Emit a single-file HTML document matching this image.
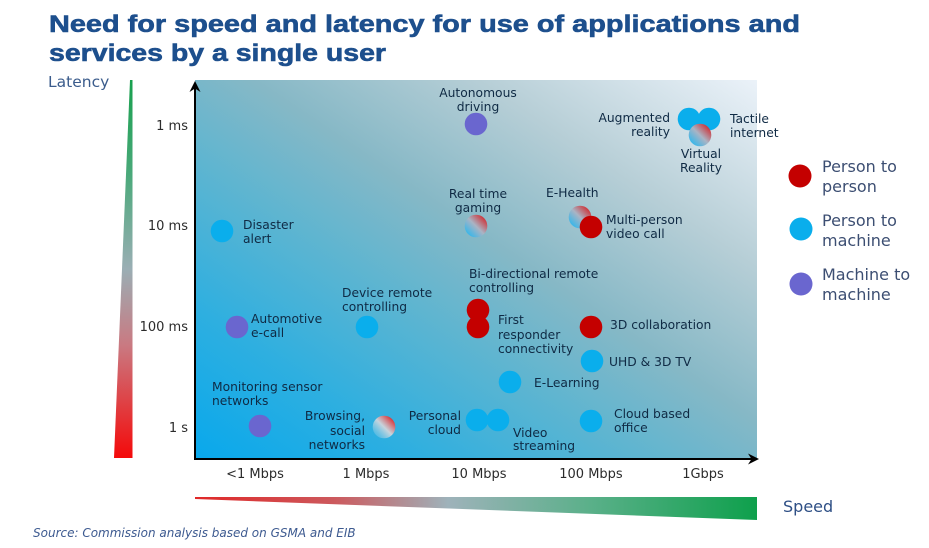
<!DOCTYPE html>
<html>
<head>
<meta charset="utf-8">
<style>
  html, body { margin:0; padding:0; background:#ffffff; }
  svg { display:block; }
  .lbl { font-family:"DejaVu Sans","Liberation Sans",sans-serif; font-size:12.3px; fill:#0f2a44; }
  .tick { font-family:"DejaVu Sans","Liberation Sans",sans-serif; font-size:13px; fill:#2b2b2b; }
  .leg { font-family:"DejaVu Sans","Liberation Sans",sans-serif; font-size:16px; fill:#3c4e72; }
</style>
</head>
<body>
<svg width="929" height="548" viewBox="0 0 929 548" xmlns="http://www.w3.org/2000/svg">
  <defs>
    <linearGradient id="bg" x1="0" y1="1" x2="1" y2="0">
      <stop offset="0" stop-color="#08a8ec"/>
      <stop offset="0.2" stop-color="#2eafe0"/>
      <stop offset="0.4" stop-color="#5fb5d0"/>
      <stop offset="0.55" stop-color="#86b8c6"/>
      <stop offset="0.75" stop-color="#b6ced6"/>
      <stop offset="1" stop-color="#ebf2f9"/>
    </linearGradient>
    <linearGradient id="lat" x1="0" y1="0" x2="0" y2="1">
      <stop offset="0" stop-color="#18a04e"/>
      <stop offset="0.25" stop-color="#4aa97a"/>
      <stop offset="0.5" stop-color="#9aaeb4"/>
      <stop offset="0.7" stop-color="#c97a82"/>
      <stop offset="1" stop-color="#f40a0a"/>
    </linearGradient>
    <linearGradient id="spd" x1="0" y1="0" x2="1" y2="0">
      <stop offset="0" stop-color="#e02828"/>
      <stop offset="0.25" stop-color="#cc5a5e"/>
      <stop offset="0.45" stop-color="#9eb2ba"/>
      <stop offset="0.7" stop-color="#5bb08a"/>
      <stop offset="1" stop-color="#0ea04c"/>
    </linearGradient>
    <linearGradient id="gb" x1="1" y1="0" x2="0" y2="1">
      <stop offset="0.15" stop-color="#cc3a40"/>
      <stop offset="0.5" stop-color="#aab4c4"/>
      <stop offset="0.85" stop-color="#3cb6e8"/>
    </linearGradient>
    <linearGradient id="gbr" x1="1" y1="0" x2="0" y2="1">
      <stop offset="0.15" stop-color="#d83a3e"/>
      <stop offset="0.5" stop-color="#d8d8dc" stop-opacity="0.9"/>
      <stop offset="0.9" stop-color="#8fd0ea" stop-opacity="0.3"/>
    </linearGradient>
  </defs>

  <!-- Title -->
  <text x="49" y="32" font-family="Liberation Sans, Arial, sans-serif" font-weight="bold" font-size="24" fill="#1d4f8d" stroke="#1d4f8d" stroke-width="0.6" textLength="751" lengthAdjust="spacingAndGlyphs">Need for speed and latency for use of applications and</text>
  <text x="49" y="61" font-family="Liberation Sans, Arial, sans-serif" font-weight="bold" font-size="24" fill="#1d4f8d" stroke="#1d4f8d" stroke-width="0.6" textLength="337" lengthAdjust="spacingAndGlyphs">services by a single user</text>

  <!-- Latency label & triangle -->
  <text x="48" y="87" font-family="DejaVu Sans, Liberation Sans, sans-serif" font-size="15.5" fill="#3b5c8c">Latency</text>
  <polygon points="130,80 132.5,80 132.5,458 114,458" fill="url(#lat)"/>

  <!-- Plot background -->
  <rect x="195" y="80" width="562" height="379" fill="url(#bg)"/>

  <!-- Axes -->
  <line x1="195" y1="459" x2="195" y2="86" stroke="#000" stroke-width="2"/>
  <polygon points="195,81 189.5,92 195,88.5 200.5,92" fill="#000"/>
  <line x1="194" y1="459" x2="753" y2="459" stroke="#000" stroke-width="2"/>
  <polygon points="759,459 748,453.5 751.5,459 748,464.5" fill="#000"/>

  <!-- Y ticks -->
  <text class="tick" x="188" y="130" text-anchor="end">1 ms</text>
  <text class="tick" x="188" y="230" text-anchor="end">10 ms</text>
  <text class="tick" x="188" y="331" text-anchor="end">100 ms</text>
  <text class="tick" x="188" y="432" text-anchor="end">1 s</text>

  <!-- X ticks -->
  <text class="tick" x="255" y="478" text-anchor="middle">&lt;1 Mbps</text>
  <text class="tick" x="366" y="478" text-anchor="middle">1 Mbps</text>
  <text class="tick" x="479" y="478" text-anchor="middle">10 Mbps</text>
  <text class="tick" x="591" y="478" text-anchor="middle">100 Mbps</text>
  <text class="tick" x="703" y="478" text-anchor="middle">1Gbps</text>

  <!-- Speed triangle -->
  <polygon points="195,497 757,497 757,520 195,499" fill="url(#spd)"/>
  <text x="783" y="512" font-family="DejaVu Sans, Liberation Sans, sans-serif" font-size="16" fill="#2e4f85">Speed</text>

  <!-- Source -->
  <text x="33" y="537" font-family="DejaVu Sans, Liberation Sans, sans-serif" font-style="italic" font-size="12" fill="#3d5a90">Source: Commission analysis based on GSMA and EIB</text>

  <!-- Autonomous driving -->
  <circle cx="476" cy="124" r="11.3" fill="#6a66cf"/>
  <text class="lbl" x="478" y="97" text-anchor="middle">Autonomous</text>
  <text class="lbl" x="478" y="111" text-anchor="middle">driving</text>

  <!-- AR / Tactile / VR -->
  <circle cx="689" cy="119" r="11.3" fill="#0aaeec"/>
  <circle cx="709" cy="119" r="11.3" fill="#0aaeec"/>
  <circle cx="700" cy="135" r="11.3" fill="url(#gb)"/>
  <text class="lbl" x="670" y="122" text-anchor="end">Augmented</text>
  <text class="lbl" x="670" y="136" text-anchor="end">reality</text>
  <text class="lbl" x="730" y="123">Tactile</text>
  <text class="lbl" x="730" y="137">internet</text>
  <text class="lbl" x="701" y="158" text-anchor="middle">Virtual</text>
  <text class="lbl" x="701" y="172" text-anchor="middle">Reality</text>

  <!-- Real time gaming -->
  <circle cx="476" cy="226" r="11.3" fill="url(#gb)"/>
  <text class="lbl" x="478" y="198" text-anchor="middle">Real time</text>
  <text class="lbl" x="478" y="212" text-anchor="middle">gaming</text>

  <!-- E-Health / Multi-person -->
  <circle cx="580" cy="217" r="11.3" fill="url(#gb)"/>
  <circle cx="591" cy="227" r="11.3" fill="#c40000"/>
  <text class="lbl" x="546" y="197">E-Health</text>
  <text class="lbl" x="606" y="224">Multi-person</text>
  <text class="lbl" x="606" y="238">video call</text>

  <!-- Disaster alert -->
  <circle cx="222" cy="231" r="11.3" fill="#0aaeec"/>
  <text class="lbl" x="243" y="229">Disaster</text>
  <text class="lbl" x="243" y="243">alert</text>

  <!-- Bi-directional / First responder -->
  <circle cx="478" cy="310" r="11.3" fill="#c40000"/>
  <circle cx="478" cy="327" r="11.3" fill="#c40000"/>
  <text class="lbl" x="469" y="278">Bi-directional remote</text>
  <text class="lbl" x="469" y="292">controlling</text>
  <text class="lbl" x="498" y="324">First</text>
  <text class="lbl" x="498" y="339">responder</text>
  <text class="lbl" x="498" y="353">connectivity</text>

  <!-- Automotive e-call -->
  <circle cx="237" cy="327" r="11.3" fill="#6a66cf"/>
  <text class="lbl" x="251" y="323">Automotive</text>
  <text class="lbl" x="251" y="337">e-call</text>

  <!-- Device remote controlling -->
  <circle cx="367" cy="327" r="11.3" fill="#0aaeec"/>
  <text class="lbl" x="342" y="297">Device remote</text>
  <text class="lbl" x="342" y="311">controlling</text>

  <!-- 3D collaboration -->
  <circle cx="591" cy="327" r="11.3" fill="#c40000"/>
  <text class="lbl" x="610" y="329">3D collaboration</text>

  <!-- UHD -->
  <circle cx="592" cy="361" r="11.3" fill="#0aaeec"/>
  <text class="lbl" x="609" y="366">UHD &amp; 3D TV</text>

  <!-- E-Learning -->
  <circle cx="510" cy="382" r="11.3" fill="#0aaeec"/>
  <text class="lbl" x="534" y="387">E-Learning</text>

  <!-- Monitoring sensor networks -->
  <circle cx="260" cy="426" r="11.3" fill="#6a66cf"/>
  <text class="lbl" x="212" y="391">Monitoring sensor</text>
  <text class="lbl" x="212" y="405">networks</text>

  <!-- Browsing -->
  <circle cx="384" cy="427" r="11.3" fill="url(#gbr)"/>
  <text class="lbl" x="365" y="420" text-anchor="end">Browsing,</text>
  <text class="lbl" x="365" y="435" text-anchor="end">social</text>
  <text class="lbl" x="365" y="449" text-anchor="end">networks</text>

  <!-- Personal cloud / Video streaming -->
  <circle cx="477" cy="420" r="11.3" fill="#0aaeec"/>
  <circle cx="498" cy="420" r="11.3" fill="#0aaeec"/>
  <text class="lbl" x="461" y="420" text-anchor="end">Personal</text>
  <text class="lbl" x="461" y="434" text-anchor="end">cloud</text>
  <text class="lbl" x="513" y="437">Video</text>
  <text class="lbl" x="513" y="450">streaming</text>

  <!-- Cloud based office -->
  <circle cx="591" cy="421" r="11.3" fill="#0aaeec"/>
  <text class="lbl" x="614" y="418">Cloud based</text>
  <text class="lbl" x="614" y="432">office</text>

  <!-- Legend -->
  <circle cx="800" cy="176" r="11.5" fill="#c40000"/>
  <text class="leg" x="822" y="172">Person to</text>
  <text class="leg" x="822" y="192">person</text>
  <circle cx="801" cy="229" r="11.5" fill="#0aaeec"/>
  <text class="leg" x="822" y="226">Person to</text>
  <text class="leg" x="822" y="246">machine</text>
  <circle cx="801" cy="284" r="11.5" fill="#6a66cf"/>
  <text class="leg" x="822" y="280">Machine to</text>
  <text class="leg" x="822" y="300">machine</text>
</svg>
</body>
</html>
